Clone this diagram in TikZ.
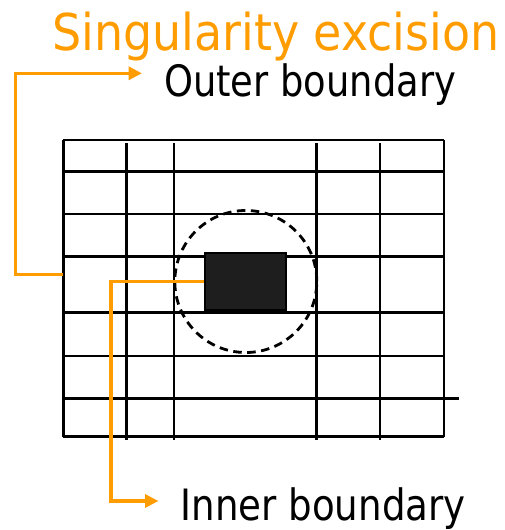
\documentclass[tikz,border=0pt]{standalone}
\usepackage{fontspec}
\setmainfont{DejaVu Sans}
\usetikzlibrary{arrows.meta}
\definecolor{orng}{HTML}{FF9C00}
\definecolor{holefill}{HTML}{1E1E1E}
\tikzset{
  gridline/.style={line width=2.8pt, black},
  orangearrow/.style={line width=3.3pt, orng, -{Triangle[length=13.5pt,width=13pt]}},
  label/.style={inner sep=0pt, anchor=base west},
}
\begin{document}
\begin{tikzpicture}[x=1pt,y=-1pt]
\useasboundingbox (0,0) rectangle (504,530);
% grid horizontals
\foreach \y in {140,171.7,214,256.7,312.7,356,436.7}
  \draw[gridline] (63.3,\y) -- (444,\y);
\draw[gridline] (63.3,398.3) -- (459,398.3);
% grid outer verticals
\draw[gridline] (63.3,140) -- (63.3,436.7);
\draw[gridline] (444,140) -- (444,436.7);
% interior verticals
\foreach \x in {126.7,174,316.7,380}
  \draw[gridline] (\x,143.3) -- (\x,440);
% excision region
\node[draw=black, dash pattern=on 8.5pt off 5.5pt, line width=2.8pt, circle, minimum size=142pt, inner sep=0pt] (excise) at (245.8,281.5) {};
\node[draw=black, line width=2.2pt, fill=holefill, minimum width=81pt, minimum height=57.5pt, inner sep=0pt] (hole) at (245.6,281.8) {};
% texts
\node[label, text=orng, font=\fontsize{50.75}{60}\selectfont, xscale=0.905, transform shape] (title) at (52,50) {Singularity excision};
\node[label, font=\fontsize{43.2}{52}\selectfont, xscale=0.853, transform shape] (outer) at (164,96.7) {Outer boundary};
\node[label, font=\fontsize{43.2}{52}\selectfont, xscale=0.86, transform shape] (inner) at (180.5,520.5) {Inner boundary};
% connectors
\coordinate (gridwest) at (63.3,274.3);
\coordinate (outertip) at (142,73.3);
\coordinate (innertip) at (158.5,501);
\draw[orangearrow] (gridwest) -- (15.7,274.3) |- (outertip);
\draw[orangearrow] (hole.west |- 0,281.7) -| (111,501) -- (innertip);
\end{tikzpicture}
\end{document}
